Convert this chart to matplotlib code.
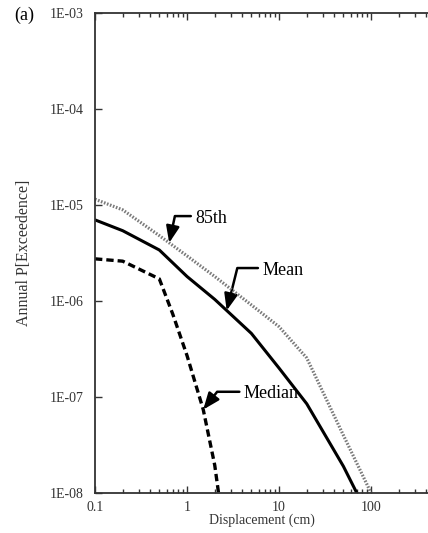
import numpy as np
import matplotlib
matplotlib.use("Agg")
import matplotlib.pyplot as plt
from matplotlib.ticker import FixedLocator, FuncFormatter, NullFormatter

plt.rcParams["font.family"] = ["Liberation Serif", "DejaVu Serif"]

# ----------------------------------------------------------
# Hazard curves: displacement (cm) vs annual P[exceedence]
# ----------------------------------------------------------

DISP_85TH = [0.1, 0.2, 0.5, 1, 2, 5, 10, 20, 50, 100]
PROB_85TH = [1.15e-5, 8.9e-6, 4.8e-6, 2.95e-6, 1.8e-6, 9.1e-7, 5.4e-7,
             2.55e-7, 4.0e-8, 1.0e-8]

DISP_MEAN = [0.1, 0.2, 0.5, 1, 2, 5, 10, 20, 50, 70]
PROB_MEAN = [7.0e-6, 5.4e-6, 3.4e-6, 1.8e-6, 1.04e-6, 4.6e-7, 2.0e-7,
             8.5e-8, 1.9e-8, 1.0e-8]

DISP_MEDIAN = [0.1, 0.2, 0.5, 0.7, 1.0, 1.5, 2.0, 2.2]
PROB_MEDIAN = [2.75e-6, 2.6e-6, 1.7e-6, 7.3e-7, 2.7e-7, 7.4e-8, 1.95e-8,
               1.0e-8]

# the 1000 tick sits past the right edge, so it carries no label
X_MAJOR = [0.1, 1, 10, 100, 1000]
X_MAJOR_LABELS = ["0.1", "1", "10", "100", ""]
Y_MAJOR = [1e-8, 1e-7, 1e-6, 1e-5, 1e-4, 1e-3]

# label text, (text x, text y), arrow tip x, leader angle
CALLOUTS = [
    ("85th", (1.22, 7.3e-6), 0.64, 78),
    ("Mean", (6.54, 2.1e-6), 2.7, 76),
    ("Median", (4.11, 1.08e-7), 1.5, 52),
]

AXIS_GREY = "#333333"


def curve_value(x, xs, ys):
    # log-log interpolation along a hazard curve
    return 10 ** np.interp(np.log10(x), np.log10(xs), np.log10(ys))


def y_tick_label(value, _pos):
    exponent = int(round(np.log10(value)))
    return f"1E-{-exponent:02d}"


def main():
    fig = plt.figure(figsize=(4.28, 5.33), dpi=100)
    # x axis runs to 1000, past the right edge of the figure
    ax = fig.add_axes([0.222, 0.075, 0.86, 0.9006])

    ax.plot(DISP_85TH, PROB_85TH, color="#7a7a7a", lw=2.3,
            linestyle=(0, (0.5, 0.5)), zorder=2)
    ax.plot(DISP_MEAN, PROB_MEAN, color="black", lw=2.2, zorder=2)
    ax.plot(DISP_MEDIAN, PROB_MEDIAN, color="black", lw=2.4,
            linestyle=(0, (2.2, 1.2)), zorder=2)

    ax.set_xscale("log")
    ax.set_yscale("log")
    ax.set_xlim(0.1, 1000)
    ax.set_ylim(1e-8, 1e-3)

    ax.xaxis.set_major_locator(FixedLocator(X_MAJOR))
    ax.set_xticklabels(X_MAJOR_LABELS)
    minor = [m * d for d in X_MAJOR[:-1] for m in range(2, 10)]
    ax.xaxis.set_minor_locator(FixedLocator(minor))
    ax.xaxis.set_minor_formatter(NullFormatter())

    ax.yaxis.set_major_locator(FixedLocator(Y_MAJOR))
    ax.yaxis.set_major_formatter(FuncFormatter(y_tick_label))
    ax.yaxis.set_minor_locator(FixedLocator([]))

    ax.tick_params(axis="x", which="major", direction="in", length=5,
                   width=1.0, top=True, pad=6, labelsize=10,
                   labelcolor=AXIS_GREY, color=AXIS_GREY)
    ax.tick_params(axis="x", which="minor", direction="in", length=3,
                   width=1.0, top=True, color=AXIS_GREY)
    ax.tick_params(axis="y", which="major", direction="in", length=5,
                   width=1.0, right=False, pad=8, labelsize=10,
                   labelcolor=AXIS_GREY, color=AXIS_GREY)

    for side in ["left", "bottom", "top"]:
        ax.spines[side].set_color(AXIS_GREY)
        ax.spines[side].set_linewidth(1.3)
    ax.spines["right"].set_visible(False)

    ax.set_xlabel("Displacement (cm)", fontsize=10, color=AXIS_GREY)
    ax.xaxis.set_label_coords(0.454, -0.043)
    ax.set_ylabel("Annual P[Exceedence]", fontsize=11.5, color=AXIS_GREY,
                  labelpad=13)

    curves = {
        "85th": (DISP_85TH, PROB_85TH),
        "Mean": (DISP_MEAN, PROB_MEAN),
        "Median": (DISP_MEDIAN, PROB_MEDIAN),
    }
    for label, text_xy, tip_x, angle in CALLOUTS:
        xs, ys = curves[label]
        tip_y = curve_value(tip_x, xs, ys)
        ax.annotate(
            label,
            xy=(tip_x, tip_y),
            xytext=text_xy,
            ha="left",
            va="center",
            fontsize=13,
            color="black",
            zorder=1,
            arrowprops=dict(
                arrowstyle="-|>,head_length=1.0,head_width=0.4",
                connectionstyle=f"angle,angleA=0,angleB={angle},rad=0",
                color="black",
                lw=1.8,
                relpos=(0, 0.62),
                shrinkA=1,
                shrinkB=0,
                mutation_scale=10,
            ),
        )

    fig.text(0.033, 0.972, "(a)", fontsize=13, ha="left", va="center")

    fig.savefig("out.png", dpi=100)
    plt.close(fig)


if __name__ == "__main__":
    main()
